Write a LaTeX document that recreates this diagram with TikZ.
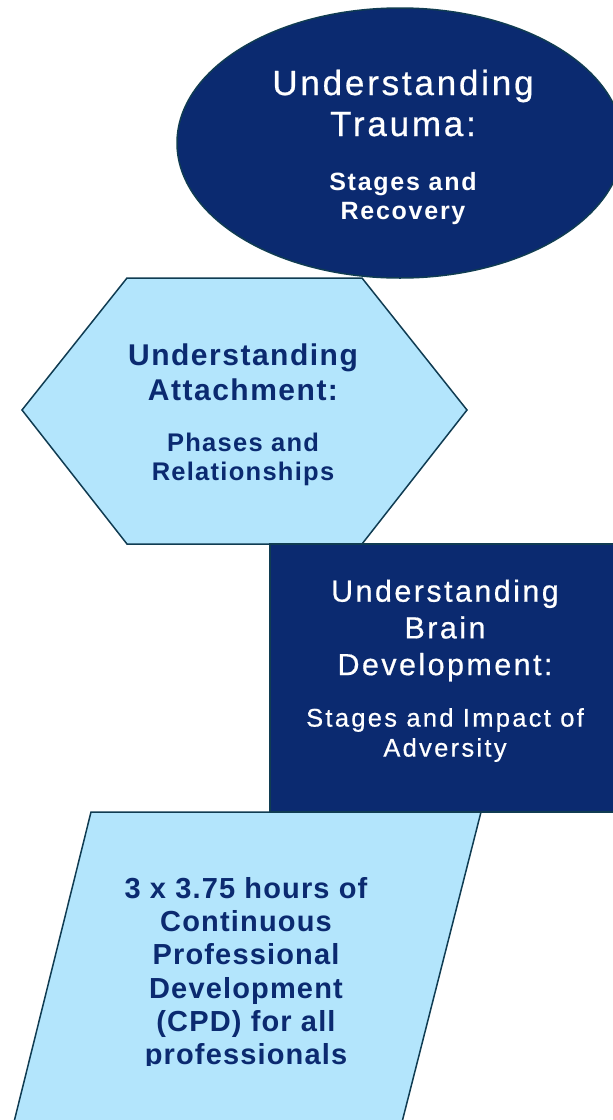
\documentclass[tikz,border=0pt]{standalone}
\usepackage{fontspec}
\setmainfont{Liberation Sans}
\newfontfamily\spacedA[LetterSpace=8,FakeBold=0.6]{Liberation Sans}
\newfontfamily\spacedB[LetterSpace=5]{Liberation Sans}
\newfontfamily\spacedC[LetterSpace=7]{Liberation Sans}
\newfontfamily\spacedD[LetterSpace=9,FakeBold=0.6]{Liberation Sans}
\newfontfamily\spacedE[LetterSpace=4]{Liberation Sans}
\definecolor{navy}{RGB}{11,42,112}
\definecolor{paleblue}{RGB}{179,229,252}
\definecolor{rim}{RGB}{16,60,82}
\begin{document}
\begin{tikzpicture}[x=1pt,y=-1pt,
  darkshape/.style={fill=navy,draw=rim,line width=1.5pt},
  lightshape/.style={fill=paleblue,draw=rim,line width=1.5pt},
  whitetext/.style={text=white,align=center,inner sep=0pt},
  bluetext/.style={text=navy,align=center,inner sep=0pt}]
\useasboundingbox (0,0) rectangle (613,1120);
\clip (0,0) rectangle (613,1120);
\draw[lightshape] (22,410) -- (127,278) -- (362,278) -- (467,410) -- (362,544) -- (127,544) -- cycle;
\draw[darkshape] (400,143) ellipse [x radius=223,y radius=135];
\draw[darkshape] (270,544) rectangle (630,812);
\draw[lightshape] (91,812) -- (481,812) -- (400,1130) -- (12,1130) -- cycle;
\node[whitetext,font=\spacedA\fontsize{35}{41}\selectfont] (traumatitle) at (403,103) {Understanding\\Trauma:};
\node[whitetext,font=\spacedC\bfseries\fontsize{25}{28.5}\selectfont] (traumasub) at (403,198.5) {Stages and\\Recovery};
\node[bluetext,font=\spacedB\bfseries\fontsize{30}{35.3}\selectfont] (attachtitle) at (243,372.5) {Understanding\\Attachment:};
\node[bluetext,font=\spacedB\bfseries\fontsize{25.5}{29}\selectfont] (attachsub) at (243,459) {Phases and\\Relationships};
\node[whitetext,font=\spacedA\fontsize{30.5}{36.7}\selectfont] (braintitle) at (445,630.5) {Understanding\\Brain\\Development:};
\node[whitetext,font=\spacedD\fontsize{25.5}{30}\selectfont] (brainsub) at (445,735) {Stages and Impact of\\Adversity};
\begin{scope}
\clip (0,0) rectangle (613,1065);
\node[bluetext,font=\spacedE\bfseries\fontsize{29}{33.2}\selectfont] (cpd) at (246,974) {3 x 3.75 hours of\\Continuous\\Professional\\Development\\(CPD) for all\\professionals};
\end{scope}
\end{tikzpicture}
\end{document}
